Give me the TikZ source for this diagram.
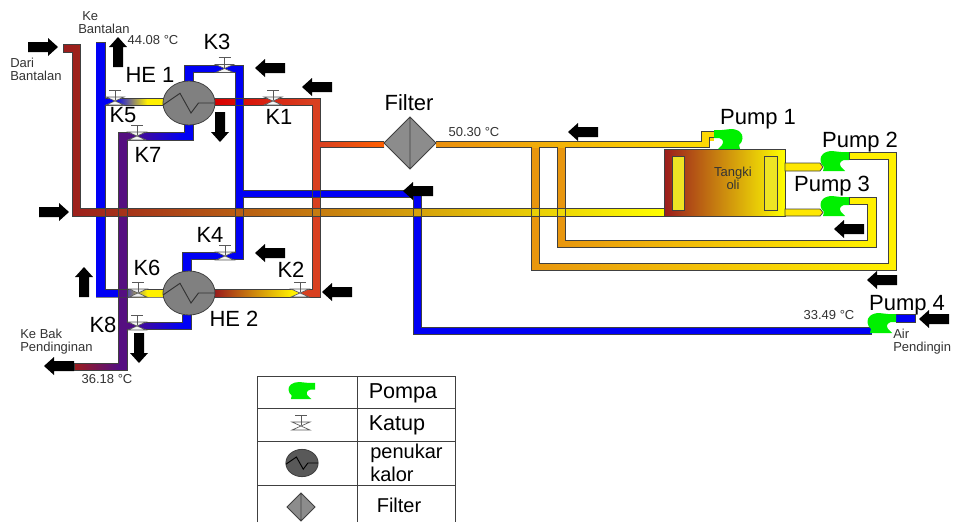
\documentclass[tikz,border=0pt]{standalone}
\usepackage{fontspec}
\setmainfont{Liberation Sans}
\definecolor{pblue}{HTML}{0000F5}
\definecolor{ppurple}{HTML}{550F80}
\definecolor{dred}{HTML}{9B1C1C}
\definecolor{ored}{HTML}{D84020}
\definecolor{lnc}{HTML}{404040}
\definecolor{yel}{HTML}{FFF000}
\definecolor{lowor}{HTML}{E8960E}
\definecolor{txtc}{HTML}{333333}
\definecolor{pgreen}{HTML}{00F000}
\newcommand\gr[6]{\shade[left color=#5,right color=#6] (#1,#2) rectangle (#3,#4);}
\newcommand\so[5]{\fill[#5] (#1,#2) rectangle (#3,#4);}
\newcommand\arrw[3]{\fill[black,shift={(#1,#2)},rotate=#3] (-15,-5)--(5,-5)--(5,-9)--(15,0)--(5,9)--(5,5)--(-15,5)--cycle;}
\newcommand\valve[4][1]{\begin{scope}[shift={(#2,#3)},scale=#1]
 \draw[vline,fill=#4] (-9,-4)--(9,-4)--(0,0)--cycle;
 \draw[vline,fill=#4] (-9,4)--(9,4)--(0,0)--cycle;
 \draw[vline] (0,-1)--(0,-11) (-6,-11)--(6,-11);
 \end{scope}}
\newcommand\pumpshape[4]{\fill[pgreen,shift={(#1,#2)},xscale=#3,yscale=#4]
 (28,1)--(28,9)--(23,9) .. controls (19,10) and (18,13) .. (20,16) -- (24,20) -- (2,20) -- (3,16)
 .. controls (-1,13) and (-2,6) .. (2,3) .. controls (4,1) and (8,0) .. (11,0) -- (20,1) -- cycle;}
\newcommand\heat[5]{\begin{scope}[shift={(#1,#2)},scale=#3]
 \draw[lnc,fill=#4,line width=.6pt] (0,0) ellipse (26 and 22);
 \draw[#5,line width=.7pt] (-26,2)--(-9,-9.7)--(2,10)--(9.5,0)--(26,0);
 \end{scope}}
\newcommand\filt[3]{\begin{scope}[shift={(#1,#2)},scale=#3]
 \draw[lnc,fill=gray!90,line width=.6pt] (-26,0)--(0,-26)--(26,0)--(0,26)--cycle (0,-26)--(0,26);
 \end{scope}}
\tikzset{
 vline/.style={draw=gray!70!black,line width=.5pt},
 pipeline/.style={draw=lnc,line width=.55pt,line join=miter},
 bigt/.style={font=\fontsize{16.5}{18}\selectfont,text=black,inner sep=0pt,text height=11.8pt,text depth=0pt},
 smallt/.style={font=\fontsize{9.75}{9.75}\selectfont,text=txtc,inner sep=0pt,text height=7pt,text depth=0pt},
 smallm/.style={font=\fontsize{9.75}{9.75}\selectfont,text=txtc,inner sep=0pt,align=left},
 legt/.style={font=\fontsize{15}{15}\selectfont,text=black,inner sep=0pt},
 legb/.style={font=\fontsize{16.2}{16}\selectfont,text=black,inner sep=0pt},
 tbl/.style={draw=lnc,line width=.7pt}
}
\begin{document}
\begin{tikzpicture}[x=0.75pt,y=-0.75pt]
\useasboundingbox (0,0) rectangle (956,522);
\fill[white] (0,0) rectangle (956,522);
% fills: blue lines
\so{96}{42}{105}{297}{pblue}
\so{105}{98}{115}{105}{pblue}
\gr{115}{98}{147}{105}{pblue}{yel}
\so{147}{98}{163}{105}{yel}
\so{105}{289}{118}{297}{pblue}
\gr{118}{289}{147}{297}{pblue}{yel}
\so{147}{289}{163}{297}{yel}
% purple lines
\so{118}{132}{127}{370}{ppurple}
\gr{127}{132}{184}{140}{ppurple}{pblue}
\so{184}{124}{193}{140}{pblue}
\gr{127}{322}{182}{329}{ppurple}{pblue}
\so{182}{315}{191}{329}{pblue}
\gr{74}{363}{118}{370}{dred}{ppurple}
% red lines
\gr{215}{98}{312}{105}{red!85!black}{ored}
\so{312}{98}{320}{297}{ored}
\gr{320}{141}{384}{147}{ored}{orange!75!red}
\gr{215}{289}{292}{297}{dred}{yel}
\so{292}{289}{298}{297}{yel}
\so{298}{289}{312}{297}{ored}
% orange lines
\so{531}{147}{539}{270}{lowor}
\so{557}{147}{565}{247}{lowor}
\gr{436}{141}{709}{147}{lowor!95!red}{yellow!75!orange}
\so{701}{131}{714}{141}{yellow!75!orange}
\so{701}{137}{709}{147}{yellow!75!orange}
\gr{531}{263}{888}{270}{lowor}{yel}
\gr{557}{240}{867}{247}{lowor}{yel}
\so{888}{152}{896}{270}{yel}
\so{867}{197}{876}{247}{yel}
\so{849}{152}{896}{159}{yel}
\so{849}{197}{876}{204}{yel}
% cooling water
\so{184}{65}{193}{82}{pblue}
\so{184}{65}{243}{72}{pblue}
\so{235}{65}{243}{259}{pblue}
\so{182}{252}{243}{259}{pblue}
\so{182}{252}{191}{272}{pblue}
\so{243}{190}{421}{197}{pblue}
\so{413}{190}{421}{334}{pblue}
\so{413}{327}{872}{334}{pblue}
\so{896}{314}{915}{322}{pblue}
% return from bearing
\shade[left color=dred,right color=yellow] (63,44)--(80,44)--(80,208)--(665,208)--(665,216)--(72,216)--(72,52)--(63,52)--cycle;
% outlines
\draw[pipeline] (63,44)--(80,44)--(80,208)--(665,208)--(665,216)--(72,216)--(72,52)--(63,52)--cycle;
\draw[pipeline] (96,42)--(105,42)--(105,98)--(163,98) (163,105)--(105,105)--(105,289)--(163,289) (163,297)--(96,297)--cycle;
\draw[pipeline] (184,82)--(184,65)--(243,65)--(243,190)--(421,190)--(421,327)--(872,327) (872,334)--(413,334)--(413,197)--(243,197)--(243,259)--(191,259)--(191,272) (182,272)--(182,252)--(235,252)--(235,72)--(193,72)--(193,82);
\draw[pipeline] (184,124)--(184,132)--(118,132)--(118,363)--(74,363)--(74,370)--(127,370)--(127,329)--(191,329)--(191,315) (182,315)--(182,322)--(127,322)--(127,140)--(193,140)--(193,124);
\draw[pipeline] (215,98)--(320,98)--(320,141)--(384,141) (384,147)--(320,147)--(320,297)--(215,297) (215,289)--(312,289)--(312,105)--(215,105);
\draw[pipeline] (436,141)--(701,141)--(701,131)--(714,131) (714,137)--(709,137)--(709,147)--(565,147)--(565,240)--(867,240)--(867,204)--(849,204)--(849,197)--(876,197)--(876,247)--(557,247)--(557,147)--(539,147)--(539,263)--(888,263)--(888,159)--(849,159)--(849,152)--(896,152)--(896,270)--(531,270)--(531,147)--(436,147);
\draw[pipeline] (896,314)--(915,314)--(915,322)--(896,322);
% tank
\shade[left color=dred,right color=yellow,draw=lnc,line width=.6pt] (664,149) rectangle (785,216);
\draw[pipeline,fill=yellow!85!gray] (672,156) rectangle (684,210);
\draw[pipeline,fill=yellow!85!gray] (764,156) rectangle (777,210);
\draw[pipeline,fill=yellow!90!orange] (785,163)--(820,163)--(823,167)--(820,171)--(785,171)--cycle;
\draw[pipeline,fill=yellow!90!orange] (785,209)--(820,209)--(823,212.5)--(820,216)--(785,216)--cycle;
% pumps
\pumpshape{742}{129}{-1}{1}
\pumpshape{821}{151}{1}{1}
\pumpshape{821}{196}{1}{1}
\pumpshape{868}{313}{1}{1}
% valves
\valve{115}{101}{white!92!gray}
\valve{273}{101}{white!92!gray}
\valve{224.5}{68.5}{white!92!gray}
\valve{137}{136}{white!92!gray}
\valve{225}{256}{white!92!gray}
\valve{138}{293}{white!85!gray}
\valve{300}{293}{white!92!gray}
\valve{137}{326}{white!92!gray}
% exchangers, filter
\heat{189}{103}{1}{gray}{black!80}
\heat{189}{293}{1}{gray}{black!80}
\filt{410}{143}{1}
% arrows
\arrw{43}{47}{0}
\arrw{118}{52}{90}
\arrw{270}{68}{180}
\arrw{317}{87}{180}
\arrw{220}{127}{-90}
\arrw{54}{212}{0}
\arrw{84}{282}{90}
\arrw{270}{253}{180}
\arrw{337}{292}{180}
\arrw{139}{348}{-90}
\arrw{59}{366}{180}
\arrw{583}{132}{180}
\arrw{418}{191}{180}
\arrw{849}{229}{180}
\arrw{882}{280}{180}
\arrw{934}{319}{180}
% labels
\node[bigt] (lk3) at (217,42) {K3};
\node[bigt] (lk5) at (123,115) {K5};
\node[bigt] (lk7) at (148,155) {K7};
\node[bigt] (lk1) at (279,117) {K1};
\node[bigt] (lk4) at (210,235) {K4};
\node[bigt] (lk6) at (147,268) {K6};
\node[bigt] (lk2) at (291,270) {K2};
\node[bigt] (lk8) at (103,325) {K8};
\node[bigt] (lhe1) at (150,75) {HE 1};
\node[bigt] (lhe2) at (234,319) {HE 2};
\node[bigt] (lfil) at (409,103) {Filter};
\node[bigt] (lp1) at (758,117) {Pump 1};
\node[bigt] (lp2) at (860,140) {Pump 2};
\node[bigt] (lp3) at (832,184) {Pump 3};
\node[bigt] (lp4) at (907,303) {Pump 4};
\node[smallm,anchor=west] (tke) at (78,22.5) {\hspace*{3pt}Ke\\Bantalan};
\node[smallm,anchor=west] (tdari) at (10,69.5) {Dari\\Bantalan};
\node[smallm,anchor=west] (tbak) at (20,341.5) {Ke Bak\\Pendinginan};
\node[smallm,anchor=west] (tair) at (893,341.5) {Air\\Pendingin};
\node[smallt] (t1) at (153,40) {44.08 °C};
\node[smallt] (t2) at (107,379) {36.18 °C};
\node[smallt] (t3) at (474,132) {50.30 °C};
\node[smallt] (t4) at (829,315) {33.49 °C};
\node[smallm,align=center] (ttank) at (733,178.5) {Tangki\\oli};
% legend
\draw[tbl] (257,522)--(257,376)--(455,376)--(455,522);
\draw[tbl] (357,376)--(357,522);
\draw[tbl] (257,408)--(455,408) (257,441)--(455,441) (257,485)--(455,485);
\pumpshape{289}{382}{.93}{.85}
\valve{301}{426}{white}
\heat{302}{463}{.62}{gray!70!black}{black}
\filt{301}{507}{.54}
\node[legb] (lpompa) at (403,393) {Pompa};
\node[legb] (lkatup) at (397,425) {Katup};
\node[legt,anchor=west,align=left] (lpen) at (370,463) {penukar\\[2pt]kalor};
\node[legt] (lfilter) at (399,505) {Filter};
\end{tikzpicture}
\end{document}
